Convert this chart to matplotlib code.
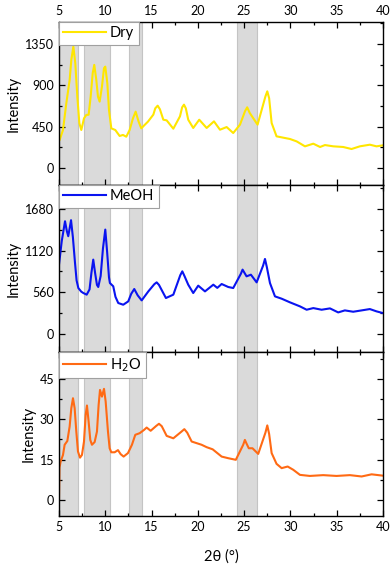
"""
Stacked XRD patterns (Dry / MeOH / H2O) with shaded 2-theta windows.
"""
import matplotlib
matplotlib.use("Agg")
import matplotlib.pyplot as plt
from matplotlib.ticker import MultipleLocator

plt.rcParams["font.family"] = ["Lato", "DejaVu Sans"]

# 2theta / intensity points
dry_x = [5.0, 5.07, 5.43, 5.79, 6.15, 6.33, 6.55, 6.76, 6.98, 7.2, 7.41, 7.7,
         7.95, 8.2, 8.42, 8.64, 8.81, 9.03, 9.21, 9.39, 9.64, 9.86, 10.0,
         10.22, 10.4, 10.65, 11.08, 11.55, 11.91, 12.27, 12.63, 12.99, 13.28,
         13.6, 13.89, 14.25, 14.61, 15.19, 15.4, 15.66, 15.9, 16.27, 16.63,
         17.35, 18.07, 18.3, 18.5, 18.7, 18.96, 19.5, 20.15, 20.95, 21.74,
         22.39, 23.11, 23.82, 24.55, 25.1, 25.33, 25.6, 26.45, 27.3, 27.5,
         27.7, 27.97, 28.5, 29.95, 30.67, 31.57, 32.47, 33.2, 33.73, 34.63,
         35.7, 36.6, 37.5, 38.58, 39.3, 40.0]
dry_y = [300, 305, 414, 705, 959, 1177, 1322, 1141, 777, 487, 414, 541,
         578, 580, 777, 1032, 1123, 959, 777, 723, 886, 1087, 1104,
         923, 632, 432, 414, 349, 360, 341, 414, 541, 614,
         505, 432, 469, 505, 581, 650, 679, 640, 526, 519,
         428, 563, 660, 690, 650, 526, 436, 526, 436, 508,
         417, 446, 381, 472, 620, 661, 600, 472, 780, 835,
         760, 490, 345, 316, 290, 236, 265, 229, 250, 236,
         229, 207, 236, 254, 236, 247]

meoh_x = [5.0, 5.3, 5.65, 5.85, 6.0, 6.15, 6.3, 6.5, 6.73, 6.9, 7.09, 7.4,
          7.63, 7.99, 8.3, 8.5, 8.7, 8.9, 9.1, 9.24, 9.5, 9.75, 10.0, 10.2,
          10.4, 10.5, 10.86, 11.1, 11.4, 11.94, 12.48, 12.8, 13.13, 13.5,
          13.93, 14.65, 15.3, 15.55, 15.8, 16.55, 17.35, 18.1, 18.32, 18.55,
          18.96, 19.5, 20.04, 20.77, 21.67, 22.1, 22.57, 23.28, 23.82, 24.65,
          24.83, 25.26, 25.73, 26.35, 27.05, 27.25, 27.45, 27.79, 28.33,
          29.05, 29.95, 31.03, 31.75, 32.47, 33.37, 34.27, 35.16, 35.88,
          36.78, 37.69, 38.58, 39.3, 40.0]
meoh_y = [932, 1250, 1514, 1380, 1313, 1420, 1528, 1300, 954, 720, 618, 570,
          551, 529, 600, 820, 999, 820, 660, 632, 780, 1150, 1402, 1100,
          760, 685, 641, 500, 417, 394, 439, 540, 605, 520,
          452, 573, 670, 694, 660, 484, 529, 790, 842, 780,
          663, 551, 650, 573, 663, 620, 672, 632, 618, 810,
          865, 775, 797, 694, 920, 1008, 900, 685, 506,
          475, 426, 372, 327, 349, 327, 345, 291, 318,
          300, 318, 336, 305, 282]

h2o_x = [5.0, 5.05, 5.18, 5.43, 5.61, 5.9, 6.15, 6.33, 6.51, 6.69, 6.87, 7.05,
         7.27, 7.48, 7.7, 7.88, 8.02, 8.2, 8.38, 8.56, 8.85, 9.1, 9.28, 9.43,
         9.64, 9.86, 10.04, 10.29, 10.47, 10.65, 11.01, 11.37, 11.66, 11.98,
         12.45, 12.88, 13.24, 13.71, 14.18, 14.47, 14.9, 15.5, 15.8, 16.1,
         16.63, 17.35, 18.2, 18.54, 18.85, 19.33, 20.4, 20.95, 21.6, 22.57,
         23.28, 24.1, 24.9, 25.08, 25.25, 25.5, 25.9, 26.52, 27.3, 27.5,
         27.7, 27.97, 28.5, 29.05, 29.7, 30.3, 31.03, 32.1, 33.54, 34.98,
         36.42, 37.69, 38.77, 40.0]
h2o_y = [0.0, 12.0, 14.3, 16.7, 20.5, 21.9, 27.3, 34.1, 37.8, 34.1, 25.4, 18.0,
         15.7, 16.7, 21.7, 31.6, 35.1, 29.1, 22.3, 20.5, 21.5, 25.4, 35.3, 40.9,
         38.4, 41.3, 36.6, 25.4, 19.2, 17.7, 17.7, 18.5, 17.0, 16.1,
         17.4, 20.5, 24.2, 24.8, 26.0, 26.9, 25.7, 27.5, 28.3, 27.4,
         23.8, 22.9, 25.3, 26.3, 25.0, 21.7, 20.5, 19.6, 18.8, 16.1,
         15.5, 14.9, 20.5, 22.3, 21.0, 19.2, 19.2, 17.1, 25.0, 27.7,
         24.5, 17.4, 13.4, 11.8, 12.4, 11.2, 9.3, 8.9, 9.2, 8.9,
         9.2, 8.7, 9.5, 9.0]

labels = ["Dry", "MeOH", "H$_2$O"]
colors = ["#ffe600", "#0a14f0", "#ff6a14"]
yticks = [[0, 450, 900, 1350], [0, 560, 1120, 1680], [0, 15, 30, 45]]
ylims = [(-185, 1590), (-240, 2000), (-6, 55)]
bands = [(5.0, 7.05), (7.7, 10.5), (12.55, 14.0), (24.25, 26.4)]

series = [(dry_x, dry_y), (meoh_x, meoh_y), (h2o_x, h2o_y)]


def main() -> None:
    fig = plt.figure(figsize=(3.92, 5.67), dpi=100)
    left, width = 59 / 392, 324 / 392
    edges = [22, 185, 352, 516]
    axes = []
    for i in range(3):
        top = 1 - edges[i] / 567
        bot = 1 - edges[i + 1] / 567
        axes.append(fig.add_axes([left, bot, width, top - bot]))

    for i, ax in enumerate(axes):
        for a, b in bands:
            ax.axvspan(a, b, facecolor="#dadada", edgecolor="#c4c4c4", lw=0.8, zorder=0)
        x, y = series[i]
        ax.plot(x, y, color=colors[i], lw=1.5, label=labels[i], zorder=2,
                solid_joinstyle="round")
        ax.set_xlim(5, 40)
        ax.set_ylim(*ylims[i])
        ax.set_yticks(yticks[i])
        ax.yaxis.set_minor_locator(MultipleLocator(yticks[i][1] / 2))
        ax.xaxis.set_major_locator(MultipleLocator(5))
        ax.xaxis.set_minor_locator(MultipleLocator(2.5))
        ax.tick_params(which="both", direction="in", top=True, right=True,
                       labelsize=9, width=0.9)
        ax.tick_params(which="major", length=4)
        ax.tick_params(which="minor", length=2.5)
        ax.tick_params(axis="x", labelbottom=(i == 2), labeltop=(i == 0))
        for s in ax.spines.values():
            s.set_linewidth(1.0)
        ax.set_ylabel("Intensity", fontsize=10.5, labelpad=3)
        leg = ax.legend(loc="upper left", borderaxespad=0, fontsize=10.5,
                        handlelength=2.9, fancybox=False, framealpha=1,
                        borderpad=0.3, handletextpad=0.3)
        leg.get_frame().set_edgecolor("#a0a0a0")
        leg.get_frame().set_linewidth(0.8)

    axes[2].set_xlabel("2θ (°)", fontsize=10.5, labelpad=12)
    fig.align_ylabels(axes)
    fig.savefig("out.png", dpi=100)


if __name__ == "__main__":
    main()
